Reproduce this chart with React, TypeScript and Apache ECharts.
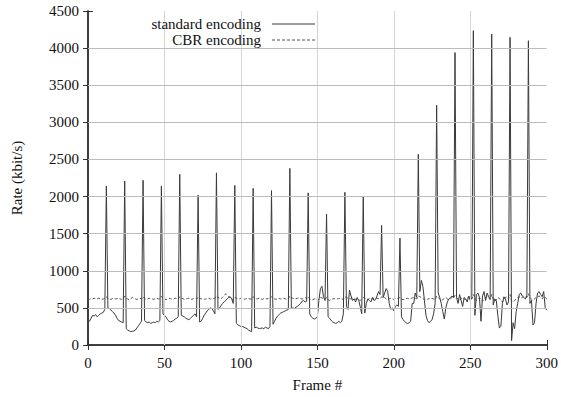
import React, { useEffect, useRef } from "react";
import * as echarts from "echarts";

// Standard encoding rate (kbit/s), one value per frame 0..300; each row = one 12-frame GOP
const standardRate: number[] = [
  340, 320, 360, 400, 390, 410, 380, 400, 420, 430, 440, 480,
  2140, 500, 490, 470, 450, 430, 400, 360, 330, 320, 310, 300,
  2210, 220, 200, 190, 180, 185, 190, 200, 230, 260, 290, 320,
  2220, 330, 310, 300, 310, 290, 300, 310, 300, 320, 310, 330,
  2140, 420, 400, 380, 340, 320, 310, 320, 330, 350, 360, 380,
  2300, 400, 390, 380, 360, 350, 340, 360, 380, 400, 420, 380,
  2020, 310, 320, 360, 400, 430, 460, 480, 500, 490, 460, 420,
  2320, 480, 500, 530, 560, 580, 600, 620, 640, 650, 620, 560,
  2150, 290, 270, 260, 250, 250, 240, 230, 220, 200, 190, 180,
  2110, 230, 240, 230, 220, 225, 230, 220, 240, 230, 220, 250,
  2080, 280, 320, 360, 390, 410, 430, 440, 450, 460, 470, 480,
  2380, 490, 500, 490, 510, 520, 540, 560, 590, 600, 580, 590,
  2050, 420, 380, 360, 350, 360, 380, 600, 760, 790, 650, 600,
  1765, 380, 360, 330, 310, 300, 290, 300, 320, 300, 320, 420,
  2057, 520, 480, 740, 660, 600, 620, 580, 640, 600, 520, 420,
  2000, 430, 560, 620, 600, 580, 640, 600, 610, 660, 720, 680,
  1610, 640, 700, 760, 720, 560, 480, 500, 460, 520, 540, 520,
  1440, 380, 340, 320, 300, 290, 300, 320, 560, 560, 700, 640,
  2570, 720, 870, 790, 600, 400, 330, 300, 320, 340, 420, 560,
  3230, 700, 640, 560, 450, 350, 500, 580, 620, 640, 660, 640,
  3940, 640, 560, 680, 600, 520, 640, 620, 580, 660, 600, 640,
  4235, 400, 680, 700, 640, 320, 660, 720, 600, 700, 650, 620,
  4190, 540, 620, 600, 400, 230, 250, 560, 650, 620, 540, 580,
  4145, 60, 300, 220, 450, 560, 680, 700, 660, 640, 620, 660,
  4100, 560, 600, 270, 300, 560, 700, 720, 680, 650, 720, 500,
  470,
];

// CBR encoding rate (kbit/s), one value per frame 0..300
const cbrRate: number[] = [
  600, 615, 625, 620, 630, 625, 620, 630, 625, 615, 620, 630, 650, 625, 620, 615, 625, 630, 620, 625,
  630, 620, 615, 625, 660, 630, 620, 610, 625, 640, 630, 620, 615, 625, 630, 620, 650, 625, 615, 620,
  630, 625, 620, 615, 625, 630, 620, 625, 655, 630, 620, 610, 620, 630, 625, 615, 620, 630, 625, 620,
  650, 630, 625, 615, 620, 625, 630, 620, 615, 625, 630, 620, 645, 625, 620, 630, 615, 620, 625, 630,
  620, 615, 625, 630, 660, 640, 630, 625, 640, 660, 690, 670, 650, 640, 620, 600, 640, 630, 625, 620,
  630, 625, 615, 620, 630, 625, 620, 615, 650, 630, 620, 625, 630, 620, 615, 625, 630, 620, 625, 630,
  650, 625, 620, 615, 625, 630, 620, 625, 630, 620, 615, 625, 660, 640, 630, 620, 625, 630, 635, 625,
  620, 630, 640, 625, 650, 620, 615, 610, 620, 625, 600, 620, 640, 635, 625, 615, 640, 610, 600, 615,
  620, 625, 615, 620, 625, 630, 620, 615, 650, 640, 630, 625, 620, 630, 625, 615, 620, 610, 600, 615,
  640, 630, 620, 610, 625, 630, 620, 635, 640, 630, 625, 620, 650, 630, 640, 620, 610, 625, 630, 620,
  615, 625, 620, 630, 640, 620, 610, 615, 625, 630, 620, 625, 635, 640, 630, 620, 660, 650, 640, 625,
  610, 600, 615, 625, 620, 630, 620, 610, 660, 640, 620, 600, 610, 630, 640, 620, 610, 625, 640, 630,
  670, 640, 620, 600, 625, 640, 620, 610, 630, 650, 640, 620, 680, 640, 600, 620, 640, 610, 590, 620,
  640, 650, 630, 610, 680, 620, 590, 610, 640, 630, 600, 580, 610, 640, 650, 620, 680, 600, 580, 600,
  620, 640, 650, 630, 640, 660, 650, 640, 690, 640, 620, 600, 620, 640, 650, 660, 640, 620, 650, 640, 620,
];

const seriesNames = ["standard encoding", "CBR encoding"];
const xTicks = { min: 0, max: 300, interval: 50 };
const yTicks = { min: 0, max: 4500, interval: 500 };
// interior grid-line positions (at the ticks)
const xGridValues = [50, 100, 150, 200, 250];
const yGridValues = [500, 1000, 1500, 2000, 2500, 3000, 3500, 4000];
const axisTitles = { x: "Frame #", y: "Rate (kbit/s)" };

const FONT = "'Liberation Serif', 'DejaVu Serif', serif";
const STD_COLOR = "#3a3a3a";
const CBR_COLOR = "#555";
const GRID_COLOR_V = "#d4d4d4";
const GRID_COLOR_H = "#bcbcbc";

export default function App() {
  const ref = useRef<HTMLDivElement>(null);

  useEffect(() => {
    if (!ref.current) return;
    const chart = echarts.init(ref.current, undefined, { renderer: "svg" });
    const axisLine = { show: true, lineStyle: { color: "#333", width: 1.5 } };
    const tick = { show: true, inside: true, length: 5, lineStyle: { color: "#333", width: 1 } };
    const labelStyle = { color: "#111", fontFamily: FONT, fontSize: 15 };
    const noSplit = { show: false };
    const plain = (v: number) => String(v);

    chart.setOption({
      animation: false,
      backgroundColor: "#fff",
      grid: { left: 88, right: 14, top: 11, bottom: 52, containLabel: false },
      graphic: [
        {
          type: "text",
          x: 261,
          y: 24,
          style: { text: seriesNames[0], fill: "#111", font: `15px ${FONT}`, align: "right", verticalAlign: "middle" },
          z: 10,
        },
        {
          type: "text",
          x: 261,
          y: 40,
          style: { text: seriesNames[1], fill: "#111", font: `15px ${FONT}`, align: "right", verticalAlign: "middle" },
          z: 10,
        },
        {
          type: "line",
          shape: { x1: 272, y1: 24, x2: 315, y2: 24 },
          style: { stroke: STD_COLOR, lineWidth: 1 },
          z: 10,
        },
        {
          type: "line",
          shape: { x1: 272, y1: 40, x2: 315, y2: 40 },
          style: { stroke: CBR_COLOR, lineWidth: 1, lineDash: [3, 2] },
          z: 10,
        },
      ],
      xAxis: [
        {
          type: "value",
          ...xTicks,
          position: "bottom",
          axisLine,
          axisTick: tick,
          splitLine: noSplit,
          axisLabel: { ...labelStyle, margin: 10, formatter: plain },
          name: axisTitles.x,
          nameLocation: "middle",
          nameGap: 32,
          nameTextStyle: labelStyle,
        },
        {
          type: "value",
          ...xTicks,
          position: "top",
          axisLine,
          axisTick: tick,
          splitLine: noSplit,
          axisLabel: { show: false },
        },
      ],
      yAxis: [
        {
          type: "value",
          ...yTicks,
          position: "left",
          axisLine,
          axisTick: tick,
          splitLine: noSplit,
          axisLabel: { ...labelStyle, margin: 9, formatter: plain },
          name: axisTitles.y,
          nameLocation: "middle",
          nameRotate: 90,
          nameGap: 64,
          nameTextStyle: labelStyle,
        },
        {
          type: "value",
          ...yTicks,
          position: "right",
          axisLine,
          axisTick: tick,
          splitLine: noSplit,
          axisLabel: { show: false },
        },
      ],
      series: [
        {
          name: "grid-x",
          type: "line",
          data: [],
          z: 1,
          silent: true,
          markLine: {
            silent: true,
            symbol: "none",
            label: { show: false },
            lineStyle: { color: GRID_COLOR_V, width: 1, type: "solid" },
            emphasis: { disabled: true },
            data: xGridValues.map((v) => ({ xAxis: v })),
          },
        },
        {
          name: "grid-y",
          type: "line",
          data: [],
          z: 1,
          silent: true,
          markLine: {
            silent: true,
            symbol: "none",
            label: { show: false },
            lineStyle: { color: GRID_COLOR_H, width: 1, type: "solid" },
            emphasis: { disabled: true },
            data: yGridValues.map((v) => [
              { coord: [xTicks.min, v] },
              { coord: [xTicks.max, v] },
            ]),
          },
        },
        {
          name: seriesNames[0],
          type: "line",
          data: standardRate.map((v, i) => [i, v]),
          symbol: "none",
          lineStyle: { color: STD_COLOR, width: 1 },
          itemStyle: { color: STD_COLOR },
          z: 3,
        },
        {
          name: seriesNames[1],
          type: "line",
          data: cbrRate.map((v, i) => [i, v]),
          symbol: "none",
          lineStyle: { color: CBR_COLOR, width: 1, type: [3, 2] },
          itemStyle: { color: CBR_COLOR },
          z: 2,
        },
      ],
    });
    return () => chart.dispose();
  }, []);

  return (
    <div
      ref={ref}
      style={{ position: "fixed", left: 0, top: 0, width: 561, height: 397, background: "#fff" }}
    />
  );
}
